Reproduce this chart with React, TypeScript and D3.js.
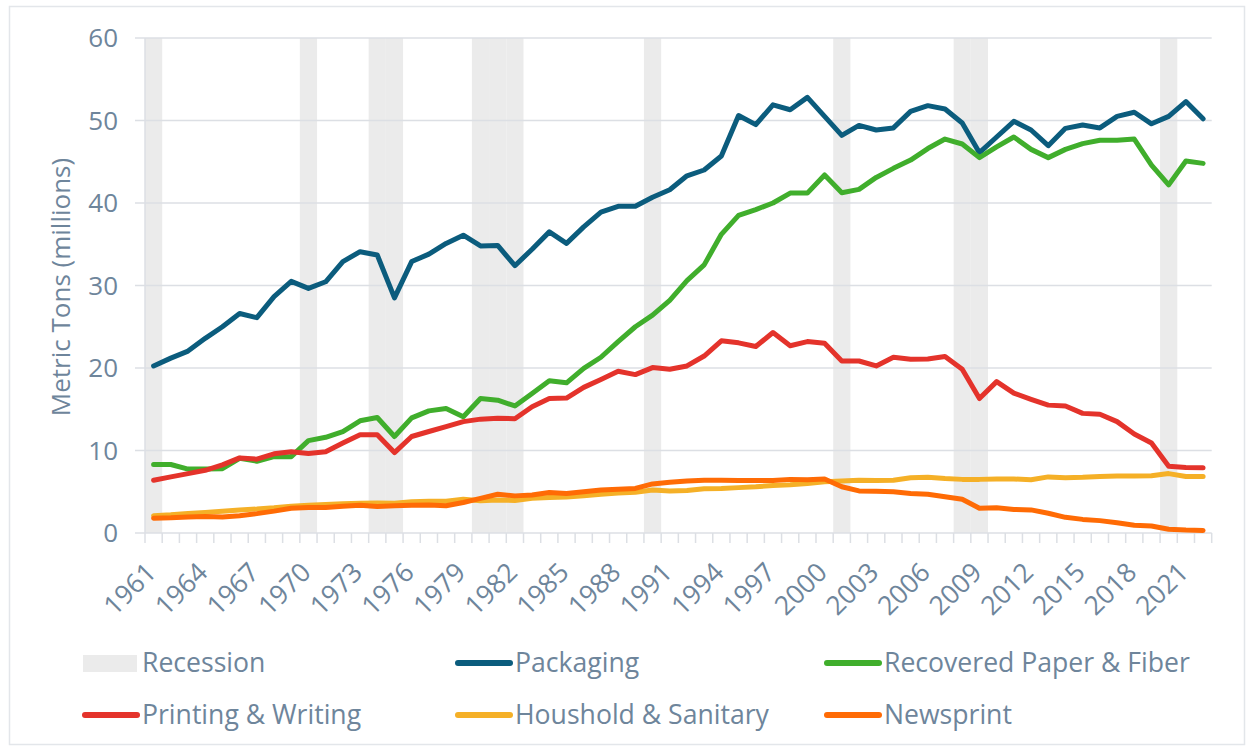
import React from 'react';
import * as d3 from 'd3';

// years on the category axis
const years = d3.range(1961, 2023);
const tickYears = years.filter((y) => (y - 1961) % 3 === 0);
const recessionYears = [1961, 1970, 1974, 1975, 1980, 1981, 1982, 1990, 2001, 2008, 2009, 2020];

// metric tons (millions), 1961 - 2022
const packaging = [
  20.25, 21.2, 22.05, 23.6, 25.0, 26.6, 26.1, 28.65, 30.5, 29.65,
  30.45, 32.9, 34.1, 33.7, 28.5, 32.9, 33.8, 35.1, 36.1, 34.8,
  34.85, 32.4, 34.4, 36.5, 35.1, 37.1, 38.9, 39.6, 39.6, 40.7,
  41.6, 43.3, 44.0, 45.7, 50.6, 49.5, 51.9, 51.3, 52.8, 50.5,
  48.2, 49.4, 48.85, 49.1, 51.1, 51.8, 51.4, 49.7, 46.1, 48.0,
  49.9, 48.85, 46.95, 49.05, 49.45, 49.1, 50.5, 51.0, 49.6, 50.5,
  52.3, 50.2,
];
const recovered = [
  8.3, 8.3, 7.75, 7.75, 7.8, 9.05, 8.7, 9.25, 9.25, 11.2,
  11.6, 12.3, 13.6, 14.0, 11.7, 13.95, 14.8, 15.1, 14.1, 16.3,
  16.1, 15.4, 16.9, 18.45, 18.2, 19.95, 21.3, 23.2, 25.0, 26.4,
  28.2, 30.6, 32.5, 36.2, 38.5, 39.2, 40.0, 41.2, 41.2, 43.4,
  41.25, 41.65, 43.1, 44.2, 45.2, 46.6, 47.75, 47.15, 45.5, 46.8,
  48.0, 46.5, 45.5, 46.5, 47.2, 47.6, 47.6, 47.75, 44.6, 42.2,
  45.1, 44.8,
];
const printing = [
  6.4, 6.8, 7.2, 7.6, 8.25, 9.1, 8.95, 9.6, 9.85, 9.65,
  9.85, 10.9, 11.9, 11.9, 9.75, 11.7, 12.3, 12.9, 13.5, 13.8,
  13.9, 13.85, 15.3, 16.3, 16.35, 17.65, 18.6, 19.6, 19.2, 20.05,
  19.85, 20.25, 21.45, 23.3, 23.05, 22.6, 24.3, 22.7, 23.2, 23.0,
  20.85, 20.85, 20.25, 21.3, 21.05, 21.1, 21.4, 19.85, 16.3, 18.35,
  16.95, 16.2, 15.5, 15.4, 14.5, 14.4, 13.5, 12.0, 10.9, 8.1,
  7.95, 7.9,
];
const household = [
  2.1, 2.2, 2.35, 2.5, 2.65, 2.8, 2.9, 3.05, 3.25, 3.35,
  3.45, 3.55, 3.6, 3.65, 3.6, 3.8, 3.85, 3.85, 4.1, 3.9,
  4.0, 3.95, 4.2, 4.3, 4.35, 4.5, 4.7, 4.85, 4.95, 5.2,
  5.1, 5.15, 5.35, 5.4, 5.5, 5.6, 5.75, 5.85, 6.0, 6.2,
  6.3, 6.4, 6.35, 6.4, 6.7, 6.75, 6.6, 6.5, 6.5, 6.55,
  6.55, 6.45, 6.8, 6.7, 6.75, 6.85, 6.9, 6.9, 6.95, 7.2,
  6.85, 6.85,
];
const newsprint = [
  1.8, 1.85, 1.95, 2.0, 1.95, 2.1, 2.35, 2.65, 3.0, 3.1,
  3.1, 3.25, 3.35, 3.2, 3.3, 3.35, 3.4, 3.3, 3.7, 4.2,
  4.7, 4.5, 4.6, 4.9, 4.8, 5.0, 5.2, 5.3, 5.4, 5.95,
  6.15, 6.3, 6.4, 6.4, 6.35, 6.35, 6.35, 6.5, 6.45, 6.55,
  5.6, 5.1, 5.05, 5.0, 4.8, 4.7, 4.4, 4.1, 3.0, 3.05,
  2.85, 2.8, 2.4, 1.9, 1.65, 1.5, 1.25, 0.95, 0.85, 0.45,
  0.35, 0.3,
];
const yTicks = [0, 10, 20, 30, 40, 50, 60];

const series = [
  { name: 'Packaging', values: packaging, color: '#0B5C7D' },
  { name: 'Recovered Paper & Fiber', values: recovered, color: '#40AE2C' },
  { name: 'Printing & Writing', values: printing, color: '#E4332B' },
  { name: 'Houshold & Sanitary', values: household, color: '#F5B027' },
  { name: 'Newsprint', values: newsprint, color: '#FF6B05' },
];

const W = 1252;
const H = 751;
const margin = { left: 145, right: 40.3, top: 38, bottom: 218 };
const textColor = '#6E859B';
const gridColor = '#DCDFE4';
const font = '"Open Sans", "Noto Sans", sans-serif';

export default function App() {
  const x = d3.scaleBand<number>().domain(years).range([margin.left, W - margin.right]).padding(0);
  const y = d3.scaleLinear().domain([0, 60]).range([H - margin.bottom, margin.top]);
  const cx = (yr: number) => (x(yr) as number) + x.bandwidth() / 2;
  const line = d3
    .line<number>()
    .x((_, i) => cx(years[i]))
    .y((d) => y(d));

  const x0 = margin.left;
  const x1 = W - margin.right;
  const y0 = y(0);

  // legend: recession first, then the series, three per row
  const legendItems = [{ name: 'Recession', color: '#EBEBEB', rect: true }, ...series.map((s) => ({ ...s, rect: false }))];
  const colX = [83, 456, 825];
  const rowY = [663, 715];

  return (
    <svg width={W} height={H} style={{ position: 'absolute', left: 0, top: 0, fontFamily: font }}>
      <rect x={9.5} y={6.5} width={1235} height={738} fill="#fff" stroke="#E3E6EA" strokeWidth={1.5} />

      {recessionYears.map((yr) => (
        <rect key={yr} x={x(yr)} y={y(60)} width={x.bandwidth()} height={y0 - y(60)} fill="#EBEBEB" />
      ))}

      {yTicks.map((t) => (
        <g key={t}>
          <line x1={135} x2={x1} y1={y(t)} y2={y(t)} stroke={gridColor} strokeWidth={1.5} />
          <text x={118} y={y(t)} dy="0.35em" textAnchor="end" fontSize={26} fill={textColor}>
            {t}
          </text>
        </g>
      ))}
      <line x1={x0} x2={x0} y1={y(60)} y2={y0} stroke={gridColor} strokeWidth={1.5} />

      {years.concat([2023]).map((yr, i) => {
        const px = i < years.length ? (x(yr) as number) : x1;
        return <line key={'t' + yr} x1={px} x2={px} y1={y0} y2={y0 + 10} stroke={gridColor} strokeWidth={1.5} />;
      })}
      {tickYears.map((yr) => (
        <text
          key={'l' + yr}
          transform={`translate(${cx(yr) + 4},574) rotate(-45)`}
          textAnchor="end"
          fontSize={26.5}
          fill={textColor}
        >
          {yr}
        </text>
      ))}

      <text transform="translate(70,287) rotate(-90)" textAnchor="middle" fontSize={26} fill={textColor}>
        Metric Tons (millions)
      </text>

      {series.map((s) => (
        <path
          key={s.name}
          d={line(s.values) || ''}
          fill="none"
          stroke={s.color}
          strokeWidth={5}
          strokeLinejoin="round"
          strokeLinecap="round"
        />
      ))}

      {legendItems.map((item, i) => {
        const lx = colX[i % 3];
        const ly = rowY[Math.floor(i / 3)];
        return (
          <g key={'lg' + item.name}>
            {item.rect ? (
              <rect x={lx} y={ly - 8} width={54} height={17} fill={item.color} />
            ) : (
              <line x1={lx + 2} x2={lx + 54} y1={ly} y2={ly} stroke={item.color} strokeWidth={6} strokeLinecap="round" />
            )}
            <text x={lx + 59} y={ly} dy="0.35em" fontSize={26.6} fill={textColor}>
              {item.name}
            </text>
          </g>
        );
      })}
    </svg>
  );
}
